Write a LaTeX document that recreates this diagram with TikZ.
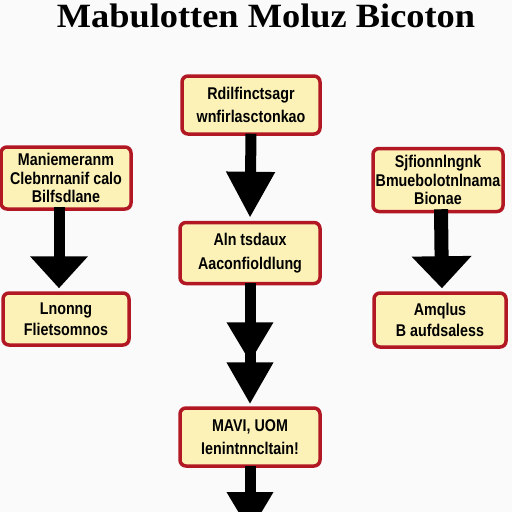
\documentclass[tikz,border=0pt]{standalone}
\usepackage{fontspec}
\setmainfont{Liberation Serif}
\setsansfont{Liberation Sans}[FakeStretch=0.84]
\newfontfamily\headfont{Liberation Serif}[FakeStretch=1.07]
\usetikzlibrary{arrows.meta}

\definecolor{boxred}{RGB}{178,24,36}
\definecolor{boxfill}{RGB}{252,242,184}
\definecolor{paper}{RGB}{250,250,250}

\begin{document}
\begin{tikzpicture}[
    x=1pt, y=-1pt,
    every node/.style={font=\sffamily\bfseries\fontsize{17}{18.5}\selectfont, text=black},
    stage/.style={draw=boxred, line width=3.5pt, fill=boxfill, rounded corners=6pt,
        align=center, inner sep=1pt},
    flow/.style={line width=11pt, -{Triangle[length=46pt,width=46pt]}, shorten >=3pt},
    twoflow/.style={line width=11pt, -{Triangle[length=40pt,width=44pt] Triangle[length=42pt,width=44pt]}, shorten >=2pt}
]
\fill[paper] (0,0) rectangle (512,512);
\useasboundingbox (0,0) rectangle (512,512);

\node[font=\headfont\bfseries\fontsize{34}{36}\selectfont] (title) at (266,16) {Mabulotten Moluz Bicoton};

% middle column
\node[stage, minimum width=138pt, minimum height=58pt] (plan) at (251,105) {Rdilfinctsagr\\[5pt]wnfirlasctonkao};
\node[stage, minimum width=140pt, minimum height=61pt] (build) at (250,253) {Aln tsdaux\\[6pt]Aaconfioldlung};
\node[stage, minimum width=140pt, minimum height=58pt] (run) at (250,437) {MAVI, UOM\\[5pt]Ienintnncltain!};
\coordinate (out) at (250,532);

% side columns
\node[stage, minimum width=130pt, minimum height=62pt] (leftA) at (66,178) {Maniemeranm\\Clebnrnanif calo\\Bilfsdlane};
\node[stage, minimum width=126pt, minimum height=52pt] (leftB) at (66,319) {Lnonng\\[2pt]Flietsomnos};
\node[stage, minimum width=130pt, minimum height=63pt] (rightA) at (438,180) {Sjfionnlngnk\\Bmuebolotnlnama\\Bionae};
\node[stage, minimum width=132pt, minimum height=54pt] (rightB) at (440,320) {Amqlus\\[2pt]B aufdsaless};

% arrows
\draw[flow] ([yshift=2pt]plan.south) -- (build.north);
\draw[twoflow] ([yshift=2pt]build.south) -- (run.north);
\draw[flow, -{Triangle[length=32pt,width=56pt]}] ([xshift=-7pt,yshift=4pt]leftA.south) -- ([xshift=-7pt]leftB.north);
\draw[flow, line width=14pt, -{Triangle[length=32pt,width=58pt]}] ([xshift=3pt,yshift=4pt]rightA.south) -- ([xshift=2pt]rightB.north);
\draw[flow, shorten >=0pt, -{Triangle[length=40pt,width=44pt]}] ([yshift=2pt]run.south) -- (out);
\end{tikzpicture}
\end{document}
